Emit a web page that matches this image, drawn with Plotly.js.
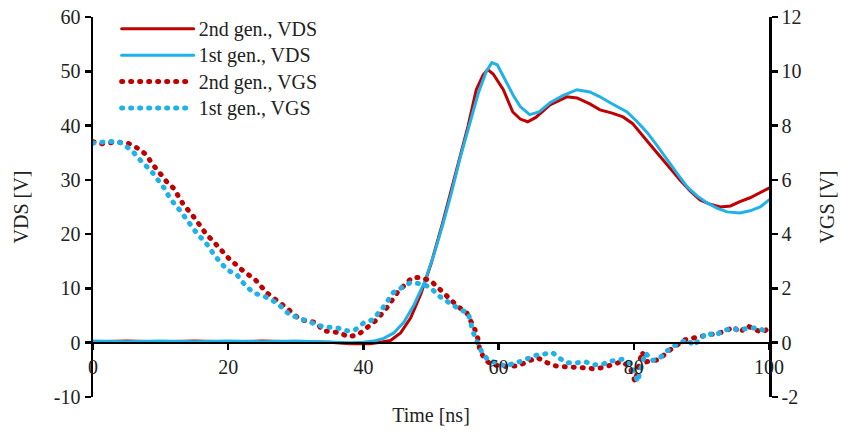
<!DOCTYPE html>
<html>
<head>
<meta charset="utf-8">
<script src="https://cdn.plot.ly/plotly-3.0.1.min.js"></script>
<style>
html,body{margin:0;padding:0;background:#fff;}
#chart{width:842px;height:437px;}
.scatterlayer .js-line, .legend .js-line { stroke-linecap: round; }
</style>
</head>
<body>
<div id="chart"></div>
<script>
// Time axis values [ns] and series values
const vdsGen2T = [0,5,10,15,20,25,30,35,38,41,42.5,44,45.5,47,48.5,50,51.7,53,54.2,55.5,56.7,57.7,58.4,59.2,60.7,62.1,63.2,64.3,65.5,67.6,70.1,71.6,73.5,75,76.8,78.4,79.8,80.9,82.4,83.9,85.4,86.8,88.3,89.8,91.3,92.8,94.3,95.7,97.2,98.5,100];
const vdsGen2V = [0.2,0.3,0.2,0.3,0.2,0.3,0.2,0.1,-0.2,-0.2,0.1,0.4,1.8,4.6,9,14.5,22,28,34,40,46.6,49.3,50.3,49.5,46.6,42.5,41.2,40.7,41.5,43.8,45.3,45.1,44,42.9,42.3,41.6,40.4,38.7,36.5,34.3,32,30,28,26.3,25.5,25.0,25.2,26,26.7,27.5,28.5];

const vdsGen1T = [0,5,10,15,20,25,30,35,38,40,41.5,43,44.5,46,47.5,49,50.5,51.8,53,54.3,55.6,57,58.2,59,59.8,61.2,62.2,63.2,64.6,66,67.6,69.5,71.6,73.5,75,76.5,79,80.5,82,83.5,84.9,86.4,87.9,89.4,90.8,92.3,93.8,95.7,97.2,98.7,100];
const vdsGen1V = [0.3,0.2,0.3,0.2,0.3,0.2,0.3,0.1,0,0.1,0.3,0.8,1.8,3.8,7,11,16.5,22,27.5,34,40,46,50,51.6,51.2,47.9,45.5,43.5,42,42.5,44.2,45.5,46.6,46.2,45.3,44.2,42.5,40.7,38.7,36.2,33.7,31.2,28.7,27,25.8,24.8,24.1,23.9,24.3,25,26.3];

const vgsGen2T = [0,1.3,3,5,6.2,7,8,8.7,9.6,10.9,11.9,13.3,15.1,16.6,18.5,20,22,24,25.7,27.3,28.8,30.6,33.1,34,36.5,37.7,39.2,40.7,42,43.6,45.1,47.2,48.7,50.1,51,52.4,54,55.3,56.5,57,57.2,58,59,61.2,62.9,64.2,65.7,67.2,68.3,69.4,71.3,72.5,74,75.4,76.8,78.2,79.4,80.2,81.2,81.9,83.6,85.8,87.6,88.8,90.5,92.3,93.5,94.7,95.7,96.7,97.9,99,100];
const vgsGen2V = [7.41,7.33,7.38,7.37,7.22,7.11,6.89,6.6,6.34,5.93,5.7,5.12,4.57,4.05,3.54,3.13,2.69,2.32,1.84,1.55,1.25,0.85,0.74,0.44,0.37,0.22,0.29,0.59,0.85,1.33,1.88,2.4,2.4,2.25,2.03,1.7,1.33,1.1,0.48,0.1,-0.26,-0.63,-0.81,-0.88,-0.85,-0.7,-0.55,-0.74,-0.85,-0.88,-0.88,-0.92,-0.96,-0.92,-0.81,-0.7,-0.88,-1.44,-0.33,-0.7,-0.63,-0.18,0.11,0.18,0.25,0.37,0.41,0.59,0.37,0.63,0.48,0.37,0.55];

const vgsGen1T = [0,0.3,2.5,3.8,5,5.9,6.8,8.7,9.6,10.7,11.4,12.3,13.9,15.5,16.6,18,19.8,21.3,22.2,23.7,25.4,27.2,29.1,31.1,34,36.1,37.6,38.8,40,41.4,42.9,44.4,45.9,46.9,48.7,49.9,51.3,52.8,54.3,55.5,56.2,56.8,57.5,58.4,60.9,62.7,64.4,65.8,66.9,68,69.1,70.1,71.6,72.8,74,75.3,76.2,77.5,78.7,79.7,80.2,80.6,80.9,81.7,82.7,83.9,84.6,85.7,86.8,88,88.8,89.8,90.8,92,93,94.2,95.4,96.7,98.2,99.7];
const vgsGen1V = [7.35,7.37,7.41,7.41,7.22,7.04,6.78,6.3,6.0,5.64,5.3,5.05,4.53,3.98,3.72,3.21,2.69,2.5,2.21,1.84,1.7,1.47,1.03,0.85,0.59,0.55,0.44,0.48,0.72,0.85,1.29,1.84,2.06,2.21,2.17,2.03,1.7,1.47,1.22,1.1,0.41,0.04,-0.33,-0.63,-0.85,-0.74,-0.55,-0.44,-0.41,-0.37,-0.59,-0.74,-0.74,-0.7,-0.81,-0.81,-0.7,-0.63,-0.59,-0.88,-1.25,-1.44,-1.07,-0.37,-0.66,-0.55,-0.37,-0.15,0,0.11,-0.11,0.15,0.37,0.26,0.41,0.52,0.48,0.52,0.55,0.41];

const seriesNames = ['2nd gen., VDS','1st gen., VDS','2nd gen., VGS','1st gen., VGS'];

// Tick labels (plain hyphen as in the reference)
const xTickVals = [0,20,40,60,80,100];
const xTickText = ['0','20','40','60','80','100'];
const yTickVals = [-10,0,10,20,30,40,50,60];
const yTickText = ['-10','0','10','20','30','40','50','60'];
const y2TickVals = [-2,0,2,4,6,8,10,12];
const y2TickText = ['-2','0','2','4','6','8','10','12'];

const RED = '#C00000';
const BLUE = '#1FB2E8';
const FONT = 'Liberation Serif, Times New Roman, serif';
const FS = 20;
const TXT = '#222';

function legendLabel(s) { return '<span style="font-size:' + FS + 'px">' + s + '</span>'; }

const traces = [
  {x: vdsGen2T, y: vdsGen2V, name: legendLabel(seriesNames[0]), mode: 'lines', line: {color: RED, width: 3}, yaxis: 'y'},
  {x: vdsGen1T, y: vdsGen1V, name: legendLabel(seriesNames[1]), mode: 'lines', line: {color: BLUE, width: 3}, yaxis: 'y'},
  {x: vgsGen2T, y: vgsGen2V, name: legendLabel(seriesNames[2]), mode: 'lines', line: {color: RED, width: 5, dash: '1px,8px'}, yaxis: 'y2'},
  {x: vgsGen1T, y: vgsGen1V, name: legendLabel(seriesNames[3]), mode: 'lines', line: {color: BLUE, width: 5, dash: '1px,8px'}, yaxis: 'y2'}
];

const axisCommon = {
  showgrid: false, zeroline: false, showline: true, linecolor: '#000', linewidth: 2.5,
  ticks: 'outside', ticklen: 6, tickwidth: 2.5, tickcolor: '#000',
  tickfont: {family: FONT, size: FS, color: TXT}
};

const layout = {
  width: 842, height: 437,
  margin: {l: 93, r: 73, t: 17, b: 40, pad: 0, autoexpand: false},
  paper_bgcolor: '#fff', plot_bgcolor: '#fff',
  font: {family: FONT, size: FS, color: TXT},
  showlegend: true,
  legend: {x: 0.035, y: 1.017, xanchor: 'left', yanchor: 'top', bgcolor: 'rgba(0,0,0,0)',
           font: {family: FONT, size: 18, color: TXT}, itemwidth: 72, tracegroupgap: 0},
  xaxis: Object.assign({}, axisCommon, {
    range: [0, 100], tickvals: xTickVals, ticktext: xTickText, anchor: 'free', position: 1/7,
    title: {text: 'Time [ns]', font: {family: FONT, size: FS, color: TXT}, standoff: 30}
  }),
  yaxis: Object.assign({}, axisCommon, {
    range: [-10, 60], tickvals: yTickVals, ticktext: yTickText,
    title: {text: 'VDS [V]', font: {family: FONT, size: FS, color: TXT}, standoff: 20}
  }),
  yaxis2: Object.assign({}, axisCommon, {
    range: [-2, 12], tickvals: y2TickVals, ticktext: y2TickText, overlaying: 'y', side: 'right',
    title: {text: 'VGS [V]', font: {family: FONT, size: FS, color: TXT}, standoff: 20}
  })
};

Plotly.newPlot('chart', traces, layout, {staticPlot: true, displayModeBar: false});
</script>
</body>
</html>
